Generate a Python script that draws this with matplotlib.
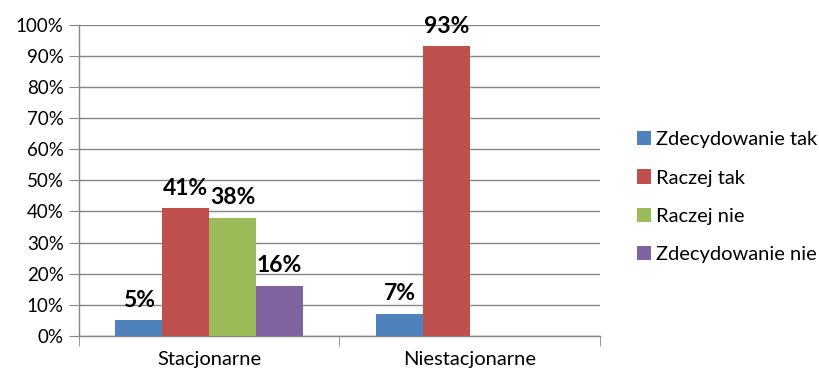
import matplotlib
matplotlib.use("Agg")
import matplotlib.pyplot as plt
import numpy as np

# data
categories = ["Stacjonarne", "Niestacjonarne"]
series_names = ["Zdecydowanie tak", "Raczej tak", "Raczej nie", "Zdecydowanie nie"]
zdecydowanie_tak = [5, 7]
raczej_tak = [41, 93]
raczej_nie = [38, 0]
zdecydowanie_nie = [16, 0]
y_ticks = [0, 10, 20, 30, 40, 50, 60, 70, 80, 90, 100]

colors = ["#4F81BD", "#C0504D", "#9BBB59", "#8064A2"]
grid_col = "#868686"

plt.rcParams['font.family'] = ['Lato', 'DejaVu Sans']

fig = plt.figure(figsize=(8.2, 3.78), dpi=100)
ax = fig.add_axes([0.0963, 0.1111, 0.6354, 0.8236])

x = np.arange(len(categories))
w = 0.18
all_series = [zdecydowanie_tak, raczej_tak, raczej_nie, zdecydowanie_nie]

for i, (vals, name, col) in enumerate(zip(all_series, series_names, colors)):
    pos = x + (i - 1.5) * w
    bars = ax.bar(pos, vals, width=w, color=col, label=name, zorder=3)
    for b, v in zip(bars, vals):
        if v == 0:
            continue
        ax.annotate(f"{v}%", (b.get_x() + b.get_width() / 2, v),
                    xytext=(0, 7), textcoords="offset points",
                    ha="center", va="bottom", fontsize=16.5, fontweight="bold",
                    color="#000000", zorder=4, annotation_clip=False)

ax.set_xlim(-0.5, 1.5)
ax.set_ylim(0, 100)
ax.set_yticks(y_ticks)
ax.set_yticklabels([f"{t}%" for t in y_ticks], fontsize=13.5)
ax.yaxis.grid(True, color=grid_col, linewidth=1, zorder=0)

ax.set_xticks(x)
ax.set_xticklabels(categories, fontsize=14.5)
ax.set_xticks([-0.5, 0.5, 1.5], minor=True)
ax.tick_params(axis="x", which="major", length=0, pad=11)
ax.tick_params(axis="x", which="minor", length=7, color=grid_col, direction="out")
ax.tick_params(axis="y", length=7, color=grid_col, direction="out", pad=4)

for s in ["top", "right"]:
    ax.spines[s].set_visible(False)
for s in ["left", "bottom"]:
    ax.spines[s].set_color(grid_col)
    ax.spines[s].set_linewidth(1)

leg = ax.legend(loc="center left", bbox_to_anchor=(1.055, 0.446), frameon=False,
                fontsize=14.5, handlelength=0.7, handleheight=0.7,
                handletextpad=0.25, labelspacing=1.05, borderaxespad=0)

fig.savefig("out.png", dpi=100, facecolor="white")
